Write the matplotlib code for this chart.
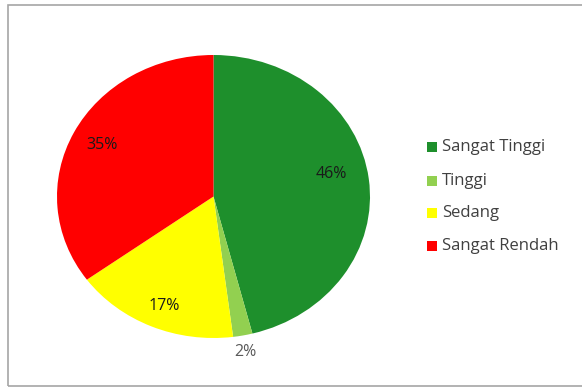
import matplotlib
matplotlib.use("Agg")
import matplotlib.pyplot as plt
from matplotlib.patches import Rectangle
import numpy as np

categories = ["Sangat Tinggi", "Tinggi", "Sedang", "Sangat Rendah"]
values = [46, 2, 17, 35]
colors = ["#1E8F2C", "#92D050", "#FFFF00", "#FF0000"]

W, H = 582, 387
fig = plt.figure(figsize=(W / 100, H / 100), dpi=100)
fig.patch.set_facecolor("white")

# chart-area frame (right edge runs off the canvas)
fig.add_artist(Rectangle((8 / W, 1 / H), (W + 10) / W, (H - 6) / H,
                         transform=fig.transFigure, fill=False,
                         edgecolor="#A6A6A6", linewidth=1.2))

FONT = "Open Sans"

# pie axes (slightly elliptical)
cx, cy, rx, ry = 213.5, 196.5, 156.5, 141.5
ax = fig.add_axes([(cx - rx) / W, (H - cy - ry) / H, 2 * rx / W, 2 * ry / H])
wedges, texts, autotexts = ax.pie(
    values, colors=colors, startangle=90, counterclock=False,
    autopct=lambda p: f"{p:.0f}%", pctdistance=0.8,
    textprops=dict(fontsize=11.5, family=FONT, color="#1A1A1A"),
    wedgeprops=dict(linewidth=0))
ax.set_aspect("auto")
ax.set_xlim(-1, 1)
ax.set_ylim(-1, 1)
ax.axis("off")

# nudge inside labels
x0, y0 = autotexts[0].get_position()
autotexts[0].set_position((x0 - 0.04, y0 + 0.06))
x2, y2 = autotexts[2].get_position()
autotexts[2].set_position((x2, y2 - 0.04))

# small slice label sits outside the pie
theta = np.deg2rad(90 - (values[0] + values[1] / 2) / sum(values) * 360)
autotexts[1].set_position((1.07 * np.cos(theta), 1.12 * np.sin(theta)))
autotexts[1].set_color("#595959")

# legend
lx, ys = 432, [147, 181, 213, 246]
for cat, col, y in zip(categories, colors, ys):
    fig.add_artist(Rectangle(((lx - 5) / W, (H - y - 5) / H), 10 / W, 10 / H,
                             transform=fig.transFigure, facecolor=col,
                             edgecolor="none"))
    fig.text((lx + 10) / W, (H - y) / H, cat, fontsize=12, family=FONT,
             color="#404040", va="center", ha="left")

fig.savefig("out.png", dpi=100)
